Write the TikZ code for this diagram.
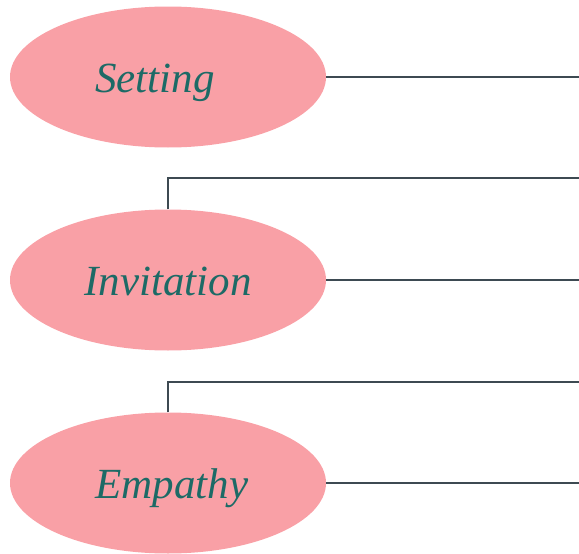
\documentclass[tikz,border=0pt]{standalone}
\usepackage{fontspec}
\setmainfont{Liberation Serif}
\usetikzlibrary{shapes.geometric}
\definecolor{petal}{HTML}{F9A0A6}
\definecolor{inkteal}{HTML}{1D6A66}
\definecolor{wire}{HTML}{3D4A52}
% baseline of each label sits a fixed distance below the ellipse centre;
% the optional argument nudges the label sideways
\newcommand{\stagetext}[2][0pt]{\hspace*{#1}\raisebox{-15pt}[0pt][0pt]{#2}}
\tikzset{
  stage/.style={ellipse, fill=petal, draw=none, minimum width=316pt,
    minimum height=141pt, inner sep=0pt, text=inkteal,
    font=\itshape\fontsize{43}{48}\selectfont},
  wireline/.style={draw=wire, line width=2.2pt}
}
\begin{document}
\begin{tikzpicture}[x=1pt, y=-1pt]
  \useasboundingbox (0,0) rectangle (579,554);
  % stages
  \node[stage] (setting)    at (168,77)  {\stagetext[-26pt]{Setting}};
  \node[stage] (invitation) at (168,280) {\stagetext{Invitation}};
  \node[stage] (empathy)    at (168,483) {\stagetext[8pt]{Empathy}};
  % free ends at the right border
  \coordinate (rightEdge) at (579,0);
  \coordinate (invTop)  at (579,178);
  \coordinate (empTop)  at (579,382);
  % connectors
  \draw[wireline] (setting.east) -- (setting.east -| rightEdge);
  \draw[wireline] (invitation.north) |- (invTop);
  \draw[wireline] (invitation.east) -- (invitation.east -| rightEdge);
  \draw[wireline] (empathy.north) |- (empTop);
  \draw[wireline] (empathy.east) -- (empathy.east -| rightEdge);
\end{tikzpicture}
\end{document}
